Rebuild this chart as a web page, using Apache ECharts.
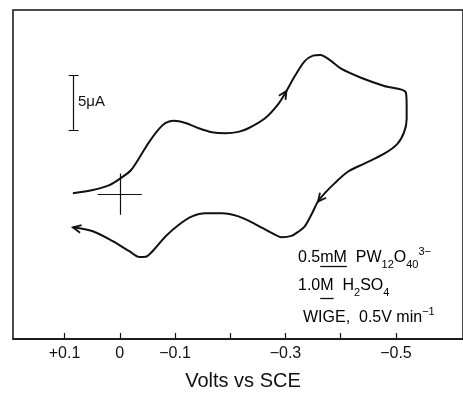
<!DOCTYPE html>
<html>
<head>
<meta charset="utf-8">
<script src="https://cdn.jsdelivr.net/npm/echarts@6/dist/echarts.min.js"></script>
<style>
  html, body { margin: 0; padding: 0; background: #fff; }
  #chart { width: 463px; height: 396px; }
</style>
</head>
<body>
<div id="chart"></div>
<script>
// cyclic voltammogram, potential in V vs SCE, current in µA
const forwardE = [0.0849, 0.0489, 0.0189, -0.0009, -0.0201, -0.0381, -0.0531, -0.0711, -0.0831, -0.0981,
  -0.1191, -0.1430, -0.1669, -0.1910, -0.2149, -0.2329, -0.2630, -0.2869, -0.3018, -0.3169,
  -0.3349, -0.3498, -0.3633, -0.3799, -0.4007, -0.4367, -0.4788, -0.5176];
const forwardI = [0.06, 0.36, 0.81, 1.42, 2.17, 3.53, 4.74, 5.94, 6.48, 6.69,
  6.48, 6.00, 5.64, 5.55, 5.67, 6.00, 6.91, 8.20, 9.40, 10.76,
  12.12, 12.63, 12.69, 12.24, 11.43, 10.61, 9.86, 9.31];
const reverseE = [-0.5194, -0.5194, -0.5148, -0.5027, -0.4788, -0.4428, -0.4128, -0.3888, -0.3709, -0.3588,
  -0.3468, -0.3349, -0.3228, -0.3108, -0.2928, -0.2748, -0.2450, -0.2149, -0.1849, -0.1550,
  -0.1309, -0.1070, -0.0831, -0.0621, -0.0471, -0.0351, -0.0171, 0.0129, 0.0489, 0.0849];
const reverseI = [8.05, 6.84, 5.64, 4.58, 3.68, 2.78, 2.03, 0.97, 0.06, -0.69,
  -1.90, -2.95, -3.46, -3.82, -3.94, -3.55, -2.74, -2.04, -1.75, -1.75,
  -2.04, -2.80, -3.85, -5.06, -5.72, -5.75, -5.21, -4.30, -3.40, -3.04];

// arrow heads: tip point and a point behind it on the trace
const arrowTip = [[-0.3018, 9.40], [-0.3588, -0.69], [0.0849, -3.04]];
const arrowBack = [[-0.2869, 8.20], [-0.3709, 0.06], [0.0489, -3.40]];

// origin cross and 5 µA scale bar
const crossHalfE = 0.04, crossUp = 1.87, crossDown = -1.9;
const barE = 0.0836, barTop = 10.86, barBottom = 5.86, capHalf = 0.009;

const tickValues = [0.1, 0, -0.1, -0.2, -0.3, -0.4, -0.5];
const labelValues = [0.1, 0, -0.1, -0.3, -0.5];

const FONT = 'Liberation Sans';
const INK = '#111';

const trace = forwardE.map((e, k) => [e, forwardI[k]])
  .concat(reverseE.map((e, k) => [e, reverseI[k]]));

const chart = echarts.init(document.getElementById('chart'), null, { renderer: 'canvas' });

// width of text pieces, used to put the underlines under mM and M
const mctx = document.createElement('canvas').getContext('2d');
mctx.font = '16px "' + FONT + '"';
const tw = s => mctx.measureText(s).width;

const line1X = 298, line2X = 298;
const u1x = line1X + tw('0.5'), u1w = tw('mM');
const u2x = line2X + tw('1.0'), u2w = tw('M');

const rich = {
  n: { fontSize: 16, fontFamily: FONT, color: INK, lineHeight: 24 },
  sub: { fontSize: 11, fontFamily: FONT, color: INK, verticalAlign: 'bottom', lineHeight: 24 },
  sup: { fontSize: 11, fontFamily: FONT, color: INK, verticalAlign: 'top', lineHeight: 24 }
};

chart.setOption({
  animation: false,
  backgroundColor: '#fff',
  grid: {
    left: 13, top: 10, right: -3, bottom: 54,
    show: true, borderColor: INK, borderWidth: 1.5
  },
  xAxis: {
    type: 'value',
    inverse: true,
    min: -0.6214,
    max: 0.1933,
    name: 'Volts vs SCE',
    nameLocation: 'middle',
    nameGap: 32,
    nameTextStyle: { fontSize: 20, fontFamily: FONT, color: INK, padding: [0, 0, 0, 10] },
    axisLine: { show: true, onZero: false, lineStyle: { color: INK, width: 1.5 } },
    axisTick: { show: true, inside: true, length: 6, customValues: tickValues, lineStyle: { color: INK, width: 1.2 } },
    axisLabel: {
      customValues: labelValues,
      fontSize: 16, fontFamily: FONT, color: INK, margin: 7,
      formatter: v => v > 0 ? '+' + v.toFixed(1) : (v === 0 ? '0' : '\u2212' + Math.abs(v).toFixed(1))
    },
    splitLine: { show: false }
  },
  yAxis: {
    type: 'value',
    min: -13.23,
    max: 16.79,
    axisLine: { show: false },
    axisTick: { show: false },
    axisLabel: { show: false },
    splitLine: { show: false }
  },
  series: [
    {
      type: 'line',
      data: trace,
      smooth: 0.3,
      symbol: 'none',
      lineStyle: { color: INK, width: 2 },
      clip: false
    },
    {
      type: 'lines',
      coordinateSystem: 'cartesian2d',
      lineStyle: { color: INK, width: 1.2, opacity: 1 },
      data: [
        { coords: [[crossHalfE, 0], [-crossHalfE, 0]] },
        { coords: [[0, crossUp], [0, crossDown]] },
        { coords: [[barE, barTop], [barE, barBottom]] },
        { coords: [[barE + capHalf, barTop], [barE - capHalf, barTop]] },
        { coords: [[barE + capHalf, barBottom], [barE - capHalf, barBottom]] }
      ]
    },
    {
      type: 'custom',
      coordinateSystem: 'cartesian2d',
      data: arrowTip.map((t, k) => [t[0], t[1], arrowBack[k][0], arrowBack[k][1]]),
      encode: { x: [0, 2], y: [1, 3] },
      renderItem: (params, api) => {
        const tip = api.coord([api.value(0), api.value(1)]);
        const back = api.coord([api.value(2), api.value(3)]);
        const a = Math.atan2(back[1] - tip[1], back[0] - tip[0]);
        const L = 9, s = 0.45;
        return {
          type: 'polyline',
          shape: { points: [
            [tip[0] + L * Math.cos(a + s), tip[1] + L * Math.sin(a + s)],
            tip,
            [tip[0] + L * Math.cos(a - s), tip[1] + L * Math.sin(a - s)]
          ] },
          style: { stroke: INK, lineWidth: 1.8, fill: null }
        };
      }
    }
  ],
  graphic: [
    { type: 'text', left: 78, top: 94, style: { text: '5\u03bcA', fontSize: 15, fontFamily: FONT, fill: INK } },
    { type: 'text', left: line1X, top: 246, style: { text: '{n|0.5mM  PW}{sub|12}{n|O}{sub|40}{sup|3\u2212}', rich } },
    { type: 'text', left: line2X, top: 278, style: { text: '{n|1.0M  H}{sub|2}{n|SO}{sub|4}', rich } },
    { type: 'text', left: 303, top: 306, style: { text: '{n|WIGE,  0.5V min}{sup|\u22121}', rich } },
    { type: 'line', shape: { x1: u1x, y1: 266.5, x2: u1x + u1w, y2: 266.5 }, style: { stroke: INK, lineWidth: 1.3 } },
    { type: 'line', shape: { x1: u2x, y1: 298.5, x2: u2x + u2w, y2: 298.5 }, style: { stroke: INK, lineWidth: 1.3 } }
  ]
});
</script>
</body>
</html>
